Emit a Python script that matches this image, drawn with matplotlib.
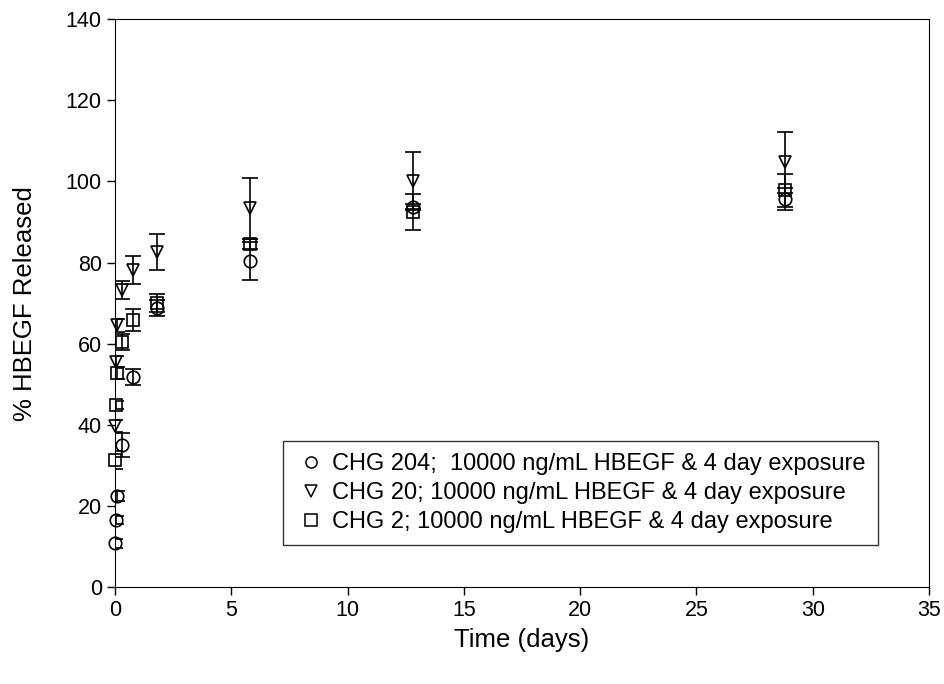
import matplotlib
matplotlib.use("Agg")
import matplotlib.pyplot as plt
from matplotlib.lines import Line2D

plt.rcParams['font.family'] = ['Liberation Sans', 'DejaVu Sans']

# time points (days)
t = [0.01, 0.04, 0.08, 0.29, 0.79, 1.79, 5.79, 12.83, 28.8]

chg204 = [10.8, 16.6, 22.5, 35.1, 51.8, 68.8, 80.3, 93.7, 95.7]
chg204_err = [1.0, 1.0, 1.2, 3.0, 2.0, 2.0, 4.7, 0.8, 2.7]

chg20 = [39.7, 55.5, 64.5, 73.2, 78.1, 82.6, 93.4, 100.2, 104.7]
chg20_err = [1.5, 1.5, 1.5, 2.2, 3.5, 4.5, 7.5, 7.0, 7.5]

chg2 = [31.3, 44.9, 52.7, 60.4, 65.8, 70.0, 84.6, 92.4, 97.8]
chg2_err = [2.2, 1.0, 1.5, 2.0, 2.7, 2.3, 1.2, 4.5, 4.0]

labels = ["CHG 204;  10000 ng/mL HBEGF & 4 day exposure",
          "CHG 20; 10000 ng/mL HBEGF & 4 day exposure",
          "CHG 2; 10000 ng/mL HBEGF & 4 day exposure"]

fig = plt.figure(figsize=(9.45, 6.84), dpi=100)
ax = fig.add_axes([0.1217, 0.1414, 0.8614, 0.8308])

style = dict(fmt='none', ecolor='black', elinewidth=1.2, capsize=6, capthick=1.2)
ax.errorbar(t, chg204, yerr=chg204_err, **style)
ax.errorbar(t, chg20, yerr=chg20_err, **style)
ax.errorbar(t, chg2, yerr=chg2_err, **style)

mk = dict(linestyle='none', markerfacecolor='none', markeredgecolor='black',
          markersize=9, markeredgewidth=1.2, clip_on=False, zorder=3)
ax.plot(t, chg204, marker='o', **mk)
ax.plot(t, chg20, marker='v', **mk)
ax.plot(t, chg2, marker='s', **mk)

ax.set_xlim(0, 35)
ax.set_ylim(0, 140)
ax.set_xticks(range(0, 36, 5))
ax.set_yticks(range(0, 141, 20))
ax.tick_params(direction='out', length=6, width=1, labelsize=15.5, top=False, right=False)
ax.set_xlabel("Time (days)", fontsize=18.5, labelpad=5)
ax.set_ylabel("% HBEGF Released", fontsize=18.5, labelpad=21)

handles = [Line2D([], [], linestyle='none', marker=m, markerfacecolor='none',
                  markeredgecolor='black', markersize=8, markeredgewidth=1.1)
           for m in ['o', 'v', 's']]
leg = ax.legend(handles, labels, loc='lower left', bbox_to_anchor=(0.206, 0.074),
                fontsize=17, frameon=True, fancybox=False,
                edgecolor='black', handlelength=1.4, handletextpad=0.2,
                borderpad=0.5, borderaxespad=0, labelspacing=0.3)
leg.get_frame().set_linewidth(1.0)

fig.savefig("out.png", dpi=100)
